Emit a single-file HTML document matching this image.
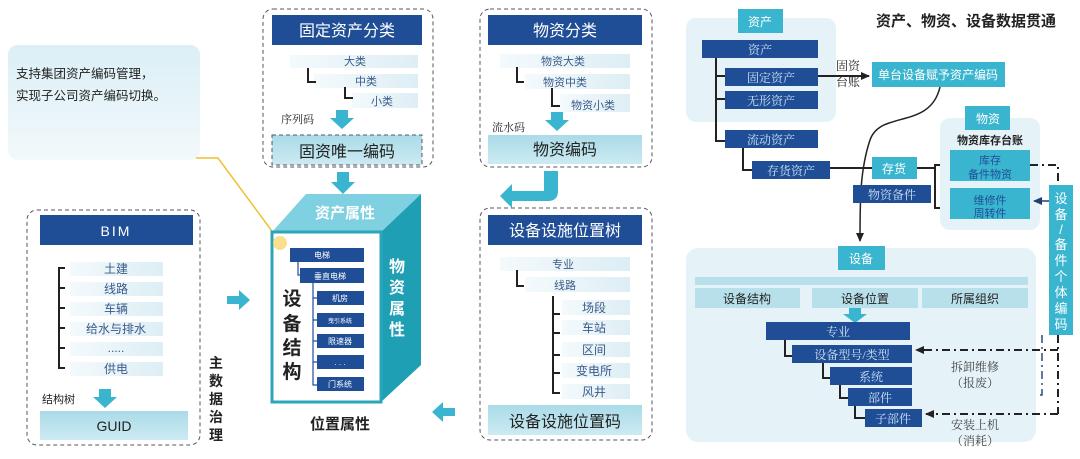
<!DOCTYPE html>
<html><head><meta charset="utf-8"><style>
html,body{margin:0;padding:0;background:#fff;}
svg{display:block;font-family:"Liberation Sans","Noto Sans CJK SC",sans-serif;}
</style></head><body>
<svg width="1080" height="459" viewBox="0 0 1080 459" xmlns="http://www.w3.org/2000/svg">
<defs>
<linearGradient id="lb" x1="0" y1="0" x2="1" y2="0"><stop offset="0" stop-color="#f4fafc"/><stop offset="1" stop-color="#ddeef5"/></linearGradient>
<linearGradient id="cl" x1="0" y1="0" x2="0" y2="1"><stop offset="0" stop-color="#dbeff6"/><stop offset="1" stop-color="#f2f9fb"/></linearGradient>
<linearGradient id="code" x1="0" y1="0" x2="0" y2="1"><stop offset="0" stop-color="#a9dbe8"/><stop offset="1" stop-color="#cdeaf2"/></linearGradient>
<marker id="ah" markerUnits="userSpaceOnUse" markerWidth="10" markerHeight="10" refX="8" refY="5" orient="auto"><path d="M0,1 L9,5 L0,9 z" fill="#222"/></marker>
<marker id="ah2" markerUnits="userSpaceOnUse" markerWidth="10" markerHeight="10" refX="8" refY="5" orient="auto"><path d="M0,1 L9,5 L0,9 z" fill="#1f3f6f"/></marker>
</defs>

<!-- callout -->
<rect x="8" y="45" width="192" height="115" rx="10" fill="url(#cl)"/>
<text x="16" y="78" font-size="12.5" fill="#222">支持集团资产编码管理，</text>
<text x="16" y="100" font-size="12.5" fill="#222">实现子公司资产编码切换。</text>
<polyline points="196,158 218,158 280,242" fill="none" stroke="#f0c030" stroke-width="1.5"/>

<!-- fixed asset -->
<rect x="263" y="9" width="170" height="158" rx="10" fill="none" stroke="#556" stroke-dasharray="4,3"/>
<rect x="272" y="15" width="150" height="30" fill="#1f4e96"/>
<text x="347" y="36" font-size="16" fill="#fff" text-anchor="middle">固定资产分类</text>
<rect x="290" y="55" width="128" height="13" fill="url(#lb)"/><text x="355" y="65" font-size="11" fill="#3a5a8a" text-anchor="middle">大类</text>
<rect x="314" y="74" width="104" height="14" fill="url(#lb)"/><text x="366" y="85" font-size="11" fill="#3a5a8a" text-anchor="middle">中类</text>
<rect x="352" y="93" width="66" height="15" fill="url(#lb)"/><text x="382" y="105" font-size="11" fill="#3a5a8a" text-anchor="middle">小类</text>
<path d="M308,68 V82 H316 M345,87 V98 H353" fill="none" stroke="#222" stroke-width="2"/>
<text x="281" y="123" font-size="11" fill="#222" font-family="Liberation Serif,Noto Serif CJK SC,serif">序列码</text>
<path d="M336,110 h12 v8 h6 l-12,11 l-12,-11 h6z" fill="#3ab5d0"/>
<rect x="272" y="135" width="150" height="30" fill="url(#code)" stroke="#556" stroke-dasharray="4,3"/>
<text x="347" y="157" font-size="16" fill="#222" text-anchor="middle">固资唯一编码</text>
<path d="M337,172 h12 v10 h6 l-12,12 l-12,-12 h6z" fill="#3ab5d0"/>

<!-- cube -->
<polygon points="272,232 306,194 421,194 381,232" fill="#7fd0e0"/>
<polygon points="381,232 421,194 421,365 381,402" fill="#1f9fb3"/>
<rect x="272" y="232" width="109" height="170" fill="#fff" stroke="#2aa5ba" stroke-width="3"/>
<text x="345" y="218" font-size="15" font-weight="bold" fill="#fff" text-anchor="middle">资产属性</text>
<g font-size="16" font-weight="bold" fill="#fff" text-anchor="middle"><text x="397" y="272">物</text><text x="397" y="293">资</text><text x="397" y="314">属</text><text x="397" y="335">性</text></g>
<g font-size="19" font-weight="bold" fill="#222" text-anchor="middle"><text x="292" y="305">设</text><text x="292" y="330">备</text><text x="292" y="354">结</text><text x="292" y="378">构</text></g>
<circle cx="280" cy="243" r="7" fill="#f6d870" opacity="0.8"/>
<path d="M298,262 V275 H302 M313,283 V385 H318 M313,298 H318 M313,320 H318 M313,341 H318 M313,362 H318" fill="none" stroke="#1f4e96" stroke-width="1.2"/>
<g fill="#1f4e96">
<rect x="290" y="248" width="74" height="14"/><rect x="300" y="268" width="64" height="15"/>
<rect x="317" y="291" width="47" height="14"/><rect x="317" y="313" width="47" height="14"/><rect x="317" y="334" width="47" height="14"/><rect x="317" y="355" width="47" height="14"/><rect x="317" y="377" width="47" height="14"/>
</g>
<g font-size="8" fill="#fff" text-anchor="middle">
<text x="322" y="258">电梯</text><text x="330" y="279">垂直电梯</text><text x="340" y="301">机房</text><text x="340" y="323" font-size="6">曳引系统</text><text x="340" y="344">限速器</text><text x="340" y="365">. . .</text><text x="340" y="387">门系统</text>
</g>
<text x="340" y="429" font-size="15" font-weight="bold" fill="#222" text-anchor="middle">位置属性</text>

<!-- BIM -->
<rect x="27" y="210" width="173" height="235" rx="10" fill="none" stroke="#556" stroke-dasharray="4,3"/>
<rect x="40" y="215" width="153" height="30" fill="#1f4e96"/>
<text x="116" y="236" font-size="14" fill="#fff" text-anchor="middle" letter-spacing="2">BIM</text>
<path d="M65,268 H59 V368 H65 M59,288 H65 M59,308 H65 M59,328 H65 M59,348 H65" fill="none" stroke="#222" stroke-width="2"/>
<g fill="url(#lb)"><rect x="70" y="262" width="93" height="14"/><rect x="70" y="282" width="93" height="14"/><rect x="70" y="302" width="93" height="14"/><rect x="70" y="322" width="93" height="14"/><rect x="70" y="342" width="93" height="14"/><rect x="70" y="362" width="93" height="14"/></g>
<g font-size="12" fill="#3a5a8a" text-anchor="middle"><text x="116" y="273">土建</text><text x="116" y="293">线路</text><text x="116" y="313">车辆</text><text x="116" y="333">给水与排水</text><text x="116" y="352">.....</text><text x="116" y="373">供电</text></g>
<text x="42" y="403" font-size="11" fill="#222">结构树</text>
<path d="M99,389 h12 v8 h6 l-12,11 l-12,-11 h6z" fill="#3ab5d0"/>
<rect x="40" y="411" width="148" height="29" fill="url(#code)"/>
<text x="114" y="431" font-size="14" fill="#222" text-anchor="middle">GUID</text>
<g font-size="14" font-weight="bold" fill="#222" text-anchor="middle"><text x="216" y="368">主</text><text x="216" y="386">数</text><text x="216" y="404">据</text><text x="216" y="422">治</text><text x="216" y="440">理</text></g>
<path d="M227,296 h12 v-6 l11,10 l-11,10 v-6 h-12z" fill="#3ab5d0"/>
<path d="M455,408 h-12 v-6 l-11,10 l11,10 v-6 h12z" fill="#3ab5d0"/>

<!-- material -->
<rect x="480" y="9" width="172" height="158" rx="10" fill="none" stroke="#556" stroke-dasharray="4,3"/>
<rect x="488" y="15" width="154" height="30" fill="#1f4e96"/>
<text x="565" y="36" font-size="16" fill="#fff" text-anchor="middle">物资分类</text>
<rect x="500" y="54" width="130" height="14" fill="url(#lb)"/><text x="563" y="65" font-size="11" fill="#3a5a8a" text-anchor="middle">物资大类</text>
<rect x="525" y="74" width="105" height="15" fill="url(#lb)"/><text x="565" y="86" font-size="11" fill="#3a5a8a" text-anchor="middle">物资中类</text>
<rect x="560" y="94" width="70" height="18" fill="url(#lb)"/><text x="593" y="109" font-size="11" fill="#3a5a8a" text-anchor="middle">物资小类</text>
<path d="M517,67 V82 H524 M552,88 V106 H560" fill="none" stroke="#222" stroke-width="2"/>
<text x="492" y="131" font-size="11" fill="#222" font-family="Liberation Serif,Noto Serif CJK SC,serif">流水码</text>
<path d="M551,112 h12 v8 h6 l-12,11 l-12,-11 h6z" fill="#3ab5d0"/>
<rect x="488" y="135" width="154" height="29" fill="url(#code)"/>
<text x="565" y="155" font-size="16" fill="#222" text-anchor="middle">物资编码</text>
<path d="M544,171 h14 v20 q0,10 -10,10 h-36 v7 l-12,-12 l12,-12 v7 h32z" fill="#3ab5d0"/>

<!-- location -->
<rect x="480" y="208" width="172" height="232" rx="10" fill="none" stroke="#556" stroke-dasharray="4,3"/>
<rect x="488" y="215" width="154" height="30" fill="#1f4e96"/>
<text x="565" y="236" font-size="16" fill="#fff" text-anchor="middle">设备设施位置树</text>
<rect x="500" y="257" width="130" height="14" fill="url(#lb)"/><text x="563" y="268" font-size="11" fill="#3a5a8a" text-anchor="middle">专业</text>
<rect x="525" y="277" width="105" height="15" fill="url(#lb)"/><text x="565" y="289" font-size="11" fill="#3a5a8a" text-anchor="middle">线路</text>
<path d="M517,270 V286 H524" fill="none" stroke="#222" stroke-width="2"/>
<path d="M553,296 V393 H560 M553,314 H560 M553,333 H560 M553,355 H560 M553,373 H560" fill="none" stroke="#222" stroke-width="2"/>
<g fill="url(#lb)"><rect x="562" y="300" width="68" height="15"/><rect x="562" y="320" width="68" height="15"/><rect x="562" y="342" width="68" height="15"/><rect x="562" y="363" width="68" height="15"/><rect x="562" y="384" width="68" height="15"/></g>
<g font-size="12" fill="#3a5a8a" text-anchor="middle"><text x="594" y="312">场段</text><text x="594" y="332">车站</text><text x="594" y="354">区间</text><text x="594" y="375">变电所</text><text x="594" y="396">风井</text></g>
<rect x="488" y="405" width="154" height="30" fill="url(#code)"/>
<text x="565" y="427" font-size="16" fill="#222" text-anchor="middle">设备设施位置码</text>

<!-- right title -->
<text x="966" y="26" font-size="15" font-weight="bold" fill="#222" text-anchor="middle">资产、物资、设备数据贯通</text>

<!-- asset panel -->
<rect x="686" y="18" width="150" height="104" rx="10" fill="#e5f3f8"/>
<rect x="738" y="9" width="45" height="24" fill="#3ab5d0"/><text x="760" y="26" font-size="12" fill="#fff" text-anchor="middle">资产</text>
<path d="M716,58 V141 H727 M716,76 H727 M716,99 H727 M743,148 V170 H754" fill="none" stroke="#222" stroke-width="2"/>
<g fill="#1f4e96"><rect x="702" y="40" width="116" height="18"/><rect x="725" y="68" width="93" height="18"/><rect x="725" y="91" width="93" height="18"/><rect x="725" y="130" width="93" height="18"/><rect x="752" y="161" width="78" height="18"/></g>
<g font-size="12" fill="#cfe3f5" text-anchor="middle" font-family="Liberation Serif,Noto Serif CJK SC,serif"><text x="760" y="54">资产</text><text x="771" y="82">固定资产</text><text x="771" y="105">无形资产</text><text x="771" y="144">流动资产</text><text x="791" y="175">存货资产</text></g>
<line x1="818" y1="76" x2="869" y2="76" stroke="#222" stroke-width="2" marker-end="url(#ah)"/>
<g font-size="12" fill="#222" font-family="Liberation Serif,Noto Serif CJK SC,serif"><text x="836" y="70">固资</text><text x="836" y="86">台账</text></g>
<rect x="872" y="62" width="133" height="25" fill="#3ab5d0"/>
<text x="938" y="79" font-size="12" fill="#fff" text-anchor="middle">单台设备赋予资产编码</text>
<path d="M940,87 C930,130 880,110 870,140 C860,170 860,200 860,241" fill="none" stroke="#222" stroke-width="1.5" marker-end="url(#ah)"/>
<line x1="830" y1="168" x2="935" y2="168" stroke="#222" stroke-width="2"/>
<path d="M935,168 V165 H950 M935,168 V208 H950" fill="none" stroke="#222" stroke-width="2"/>
<rect x="872" y="157" width="45" height="22" fill="#3ab5d0"/><text x="894" y="173" font-size="12" fill="#fff" text-anchor="middle">存货</text>
<rect x="853" y="185" width="78" height="18" fill="#1f4e96"/><text x="892" y="199" font-size="12" fill="#cfe3f5" text-anchor="middle" font-family="Liberation Serif,Noto Serif CJK SC,serif">物资备件</text>

<!-- material panel -->
<rect x="940" y="118" width="100" height="112" rx="10" fill="#e5f3f8"/>
<rect x="965" y="106" width="45" height="24" fill="#3ab5d0"/><text x="988" y="123" font-size="12" fill="#fff" text-anchor="middle">物资</text>
<text x="990" y="144" font-size="11" font-weight="bold" fill="#222" text-anchor="middle">物资库存台账</text>
<rect x="950" y="150" width="80" height="31" fill="#3ab5d0"/>
<text x="990" y="164" font-size="11" fill="#1f4e96" text-anchor="middle">库存</text><text x="990" y="178" font-size="11" fill="#1f4e96" text-anchor="middle">备件物资</text>
<rect x="950" y="188" width="80" height="31" fill="#3ab5d0"/>
<text x="990" y="204" font-size="11" fill="#1f4e96" text-anchor="middle">维修件</text><text x="990" y="217" font-size="11" fill="#1f4e96" text-anchor="middle">周转件</text>
<rect x="1049" y="185" width="24" height="150" fill="#3ab5d0"/>
<g font-size="13" fill="#fff" text-anchor="middle"><text x="1061" y="203">设</text><text x="1061" y="219">备</text><text x="1061" y="234">/</text><text x="1061" y="249">备</text><text x="1061" y="265">件</text><text x="1061" y="281">个</text><text x="1061" y="297">体</text><text x="1061" y="313">编</text><text x="1061" y="329">码</text></g>
<path d="M1030,165 H1058 V185 M1058,335 V414" fill="none" stroke="#222" stroke-width="2" stroke-dasharray="8,4,2,4"/>
<path d="M1049,201 H1034" fill="none" stroke="#1f3f6f" stroke-width="1.5" marker-end="url(#ah2)"/>
<path d="M1042,335 V395 H912" fill="none" stroke="#2a4f7a" stroke-width="1.5" stroke-dasharray="8,4,2,4"/>

<!-- equipment panel -->
<rect x="686" y="248" width="350" height="194" rx="12" fill="#e5f3f8"/>
<rect x="838" y="246" width="47" height="24" fill="#3ab5d0"/><text x="861" y="263" font-size="12" fill="#fff" text-anchor="middle">设备</text>
<rect x="695" y="277" width="333" height="8" fill="#b8e0eb"/>
<rect x="695" y="288" width="105" height="20" fill="#b8e0eb"/><rect x="812" y="288" width="106" height="20" fill="#b8e0eb"/><rect x="922" y="288" width="106" height="20" fill="#b8e0eb"/>
<g font-size="12" fill="#222" text-anchor="middle"><text x="747" y="303">设备结构</text><text x="865" y="303">设备位置</text><text x="975" y="303">所属组织</text></g>
<path d="M849,308 h12 v6 h6 l-12,9 l-12,-9 h6z" fill="#3ab5d0"/>
<path d="M785,340 V356 H795 M823,363 V378 H832 M840,385 V398 H850 M855,406 V418 H866" fill="none" stroke="#222" stroke-width="2"/>
<g fill="#1f4e96"><rect x="766" y="322" width="144" height="18"/><rect x="792" y="345" width="120" height="18"/><rect x="830" y="367" width="82" height="18"/><rect x="848" y="388" width="64" height="18"/><rect x="865" y="409" width="57" height="18"/></g>
<g font-size="12" fill="#cfe3f5" text-anchor="middle" font-family="Liberation Serif,Noto Serif CJK SC,serif"><text x="838" y="336">专业</text><text x="852" y="359">设备型号/类型</text><text x="871" y="381">系统</text><text x="880" y="402">部件</text><text x="893" y="423">子部件</text></g>
<path d="M1058,350 H916" fill="none" stroke="#222" stroke-width="2" stroke-dasharray="8,4,2,4" marker-end="url(#ah)"/>
<path d="M1058,414 H926" fill="none" stroke="#222" stroke-width="2" stroke-dasharray="8,4,2,4" marker-end="url(#ah)"/>
<g font-size="12" fill="#444" text-anchor="middle" font-family="Liberation Serif,Noto Serif CJK SC,serif"><text x="975" y="371">拆卸维修</text><text x="975" y="387">（报废）</text><text x="975" y="429">安装上机</text><text x="975" y="445">（消耗）</text></g>
</svg>
</body></html>
